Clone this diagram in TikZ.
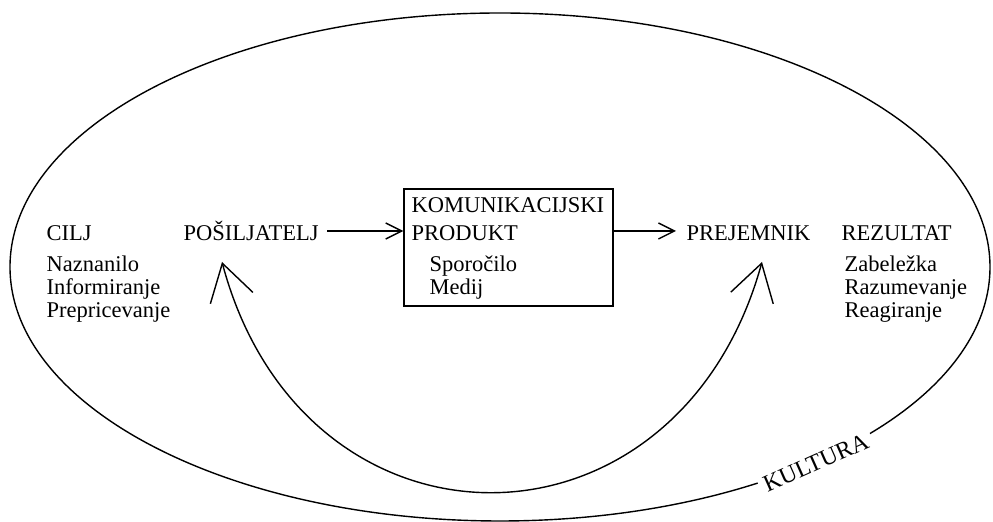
\documentclass[tikz,border=0pt]{standalone}
\usepackage{fontspec}
\setmainfont{Liberation Serif}
\usetikzlibrary{arrows.meta,positioning,calc}

\begin{document}
\begin{tikzpicture}[x=0.5pt,y=-0.5pt,line width=0.7pt,
  lbl/.style={inner sep=0pt,anchor=base west,font=\fontsize{11.25}{11.5}\selectfont},
  arr/.style={-{Straight Barb[length=8pt,width=8pt]}},
  fbarr/.style={{Straight Barb[length=18pt,width=22pt]}-{Straight Barb[length=18pt,width=22pt]}}]
  \useasboundingbox (0,0) rectangle (993,522);
  % kultura
  \draw (500,267) ellipse [x radius=490,y radius=254];
  \node[lbl,fill=white,inner sep=2.5pt,rotate=24,anchor=base,font=\fontsize{12}{12}\selectfont] (kultura) at (819,470) {KULTURA};
  % cilj
  \node[lbl] (cilj) at (46,241) {CILJ};
  \foreach \t [count=\i] in {Naznanilo,Informiranje,Prepricevanje}
    \node[lbl] (cilj\i) at (46,{249+23*\i}) {\t};
  % posiljatelj, produkt, prejemnik
  \node[lbl] (posiljatelj) at (183,241) {POŠILJATELJ};
  \node[draw,minimum width=104.5pt,minimum height=58.5pt,inner sep=0pt] (produkt) at (508.5,247.5) {};
  \node[lbl] (kom) at (411,213) {KOMUNIKACIJSKI};
  \node[lbl] (prod) at (411,241) {PRODUKT};
  \node[lbl] (sporocilo) at (429,272) {Sporočilo};
  \node[lbl] (medij) at (429,295) {Medij};
  \node[lbl] (prejemnik) at (686,241) {PREJEMNIK};
  % rezultat
  \node[lbl] (rezultat) at (841,241) {REZULTAT};
  \foreach \t [count=\i] in {Zabeležka,Razumevanje,Reagiranje}
    \node[lbl] (rez\i) at (844,{249+23*\i}) {\t};
  % povezave
  \coordinate (tok) at (0,231);
  \draw[arr,shorten <=4pt] (posiljatelj.east |- tok) -- (produkt.west |- tok);
  \draw[arr,shorten >=5pt] (produkt.east |- tok) -- (prejemnik.west |- tok);
  \coordinate (fbs) at (222,262);
  \coordinate (fbr) at (762,262);
  \draw[fbarr] (fbs) .. controls +(82,307) and +(-85,307) .. (fbr);
\end{tikzpicture}
\end{document}
